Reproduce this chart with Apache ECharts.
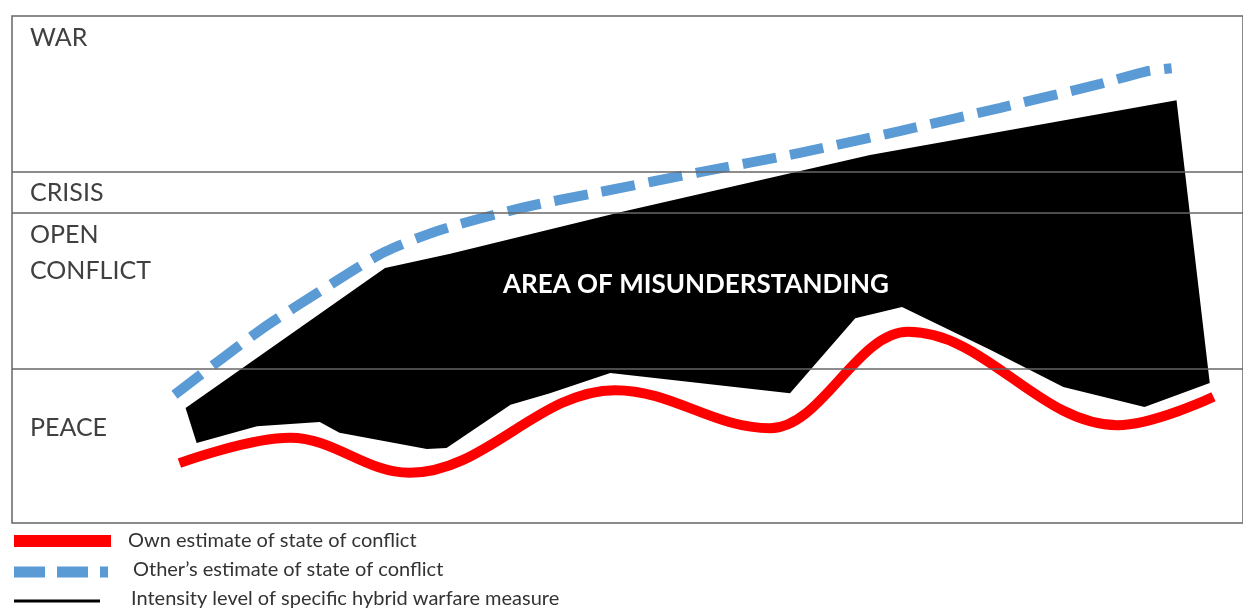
<!DOCTYPE html>
<html>
<head>
<meta charset="utf-8">
<script src="https://cdn.jsdelivr.net/npm/echarts@6/dist/echarts.min.js"></script>
<style>html,body{margin:0;padding:0;background:#fff;}#main{width:1243px;height:608px;}</style>
</head>
<body>
<div id="main"></div>
<script>
// Conflict states (band boundaries on the intensity scale 0..100)
const bandNames = ['PEACE', 'OPEN\nCONFLICT', 'CRISIS', 'WAR'];
const bandBounds = [30.4, 61.1, 69.2];

// Own estimate of state of conflict (time, intensity)
const ownX = [13.6, 22.6, 32.3, 49.0, 61.6, 72.8, 89.8, 97.6];
const ownY = [11.8, 16.8, 9.9, 26.2, 18.7, 37.7, 19.3, 24.9];

// Other's estimate of state of conflict
const otherX = [13.2, 20.2, 25.8, 30.3, 34.8, 41.3, 47.8, 55.9, 64.0, 72.1, 80.3, 88.4, 92.0, 94.2];
const otherY = [25.3, 38.1, 46.9, 53.5, 57.8, 62.1, 65.3, 69.2, 73.0, 77.3, 81.9, 86.6, 89.0, 89.7];

// Intensity level of specific hybrid warfare measure (area of misunderstanding outline)
const areaX = [14.1, 30.3, 35.6, 49.4, 69.7, 94.6, 97.3, 92.0, 85.4, 79.5, 72.3, 68.5, 63.2, 48.6, 43.7, 40.5, 35.3, 33.7, 26.6, 25.0, 19.9, 15.0];
const areaY = [22.7, 50.3, 53.1, 61.3, 72.6, 83.4, 27.6, 22.9, 26.8, 34.1, 42.6, 40.4, 25.6, 29.6, 25.6, 23.3, 14.8, 14.6, 17.8, 19.9, 19.1, 15.8];

const legendNames = ['Own estimate of state of conflict', 'Other\u2019s estimate of state of conflict', 'Intensity level of specific hybrid warfare measure'];
const areaLabel = 'AREA OF MISUNDERSTANDING';

const chart = echarts.init(document.getElementById('main'), null, {renderer: 'canvas'});
const font = 'Lato, "Open Sans", sans-serif';
const textColor = '#404040';

const option = {
  animation: false,
  backgroundColor: '#fff',
  grid: {left: 12, right: 0, top: 16, bottom: 85, show: true, borderColor: '#666', borderWidth: 1.5, backgroundColor: 'transparent'},
  xAxis: {type: 'value', min: 0, max: 100, show: false},
  yAxis: {type: 'value', min: 0, max: 100, show: false},
  series: [
    {
      type: 'line', data: [], z: 1,
      markLine: {
        silent: true, symbol: 'none', animation: false,
        label: {show: false},
        lineStyle: {color: '#666', width: 1.5, type: 'solid'},
        data: bandBounds.map(v => ({yAxis: v}))
      }
    },
    {
      type: 'custom', z: 2,
      data: areaX.map((x, i) => [x, areaY[i]]),
      renderItem: function (params, api) {
        if (params.dataIndex !== 0) return null;
        const pts = areaX.map((x, i) => api.coord([x, areaY[i]]));
        return {type: 'polygon', shape: {points: pts}, style: {fill: '#000'}};
      }
    },
    {
      type: 'line', z: 3, smooth: 0.25, symbol: 'none',
      data: otherX.map((x, i) => [x, otherY[i]]),
      lineStyle: {color: '#5b9bd5', width: 10, type: [34, 14], cap: 'butt'}
    },
    {
      type: 'line', z: 4, smooth: 0.37, smoothMonotone: 'x', symbol: 'none',
      data: ownX.map((x, i) => [x, ownY[i]]),
      lineStyle: {color: '#ff0000', width: 10, cap: 'butt'}
    }
  ],
  graphic: [
    {type: 'text', left: 30, top: 25, z: 10, style: {text: bandNames[3], font: '25px ' + font, fill: textColor}},
    {type: 'text', left: 30, top: 180, z: 10, style: {text: bandNames[2], font: '25px ' + font, fill: textColor}},
    {type: 'text', left: 30, top: 217, z: 10, style: {text: bandNames[1], font: '25px ' + font, fill: textColor, lineHeight: 36}},
    {type: 'text', left: 30, top: 415, z: 10, style: {text: bandNames[0], font: '25px ' + font, fill: textColor}},
    {type: 'text', x: 696, y: 285, z: 10, style: {text: areaLabel, font: 'bold 26px ' + font, fill: '#fff', align: 'center', verticalAlign: 'middle'}},
    // legend
    {type: 'rect', shape: {x: 14, y: 535, width: 97, height: 12}, style: {fill: '#ff0000'}},
    {type: 'text', x: 128, y: 541, style: {text: legendNames[0], font: '20px ' + font, fill: '#333', verticalAlign: 'middle'}},
    {type: 'line', shape: {x1: 14, y1: 572, x2: 108, y2: 572}, style: {stroke: '#5b9bd5', lineWidth: 11, lineDash: [31, 12]}},
    {type: 'text', x: 133, y: 570, style: {text: legendNames[1], font: '20px ' + font, fill: '#333', verticalAlign: 'middle'}},
    {type: 'line', shape: {x1: 14, y1: 601, x2: 100, y2: 601}, style: {stroke: '#000', lineWidth: 3}},
    {type: 'text', x: 131, y: 599, style: {text: legendNames[2], font: '20px ' + font, fill: '#333', verticalAlign: 'middle'}}
  ]
};
chart.setOption(option);
</script>
</body>
</html>
